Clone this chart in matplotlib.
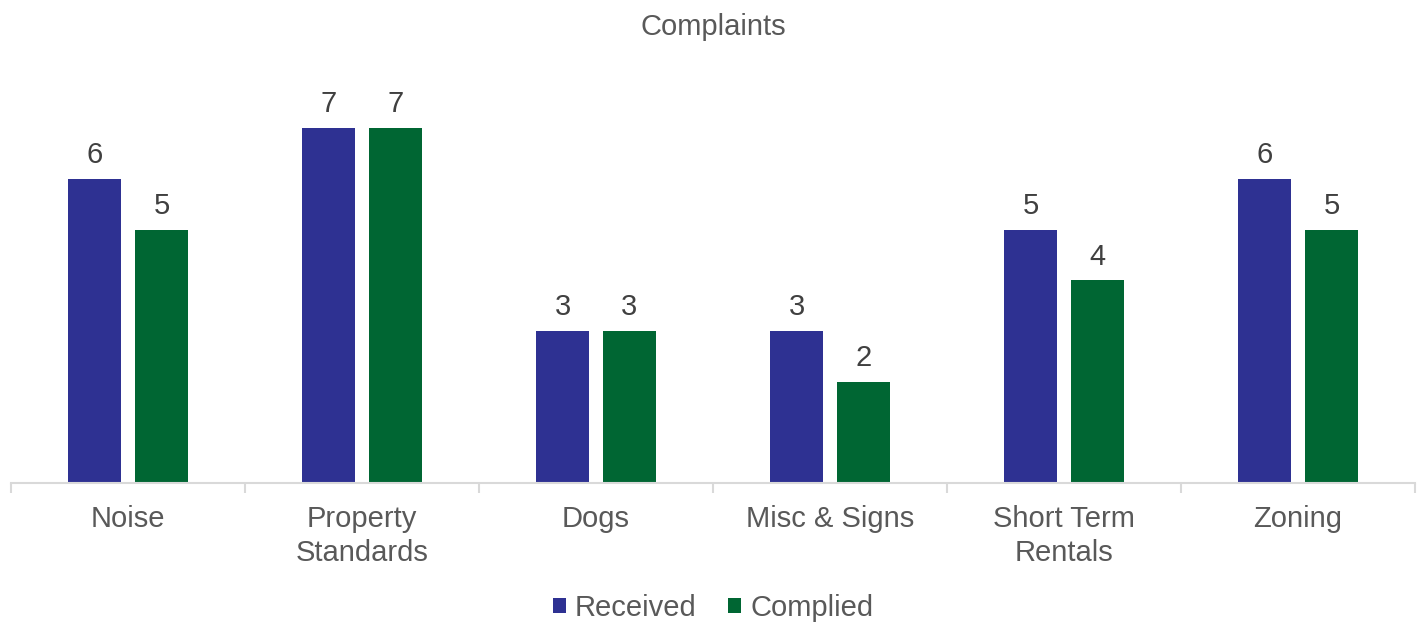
import matplotlib
matplotlib.use("Agg")
import matplotlib.pyplot as plt
import numpy as np

plt.rcParams['font.family'] = ['Liberation Sans', 'DejaVu Sans']

categories = ["Noise", "Property\nStandards", "Dogs", "Misc & Signs",
              "Short Term\nRentals", "Zoning"]
received = [6, 7, 3, 3, 5, 6]
complied = [5, 7, 3, 2, 4, 5]

BLUE = "#2E3192"
GREEN = "#006633"
TEXT = "#595959"
LABEL = "#404040"
AXIS = "#D9D9D9"
FS = 21

fig = plt.figure(figsize=(14.26, 6.23), dpi=100)
ax = fig.add_axes([0.0077, 0.2247, 0.9846, 0.651])

x = np.arange(len(categories))
width = 0.226
off = 0.143
b1 = ax.bar(x - off, received, width, color=BLUE, label="Received")
b2 = ax.bar(x + off, complied, width, color=GREEN, label="Complied")

for bars in (b1, b2):
    ax.bar_label(bars, padding=7, fontsize=FS, color=LABEL)

ax.set_xlim(-0.5, len(categories) - 0.5)
ax.set_ylim(0, 8)

for s in ("top", "right", "left"):
    ax.spines[s].set_visible(False)
ax.spines["bottom"].set_color(AXIS)
ax.spines["bottom"].set_linewidth(1.5)
ax.set_yticks([])

ax.set_xticks(x)
ax.set_xticklabels(categories, fontsize=FS, color=TEXT, linespacing=1.25)
ax.tick_params(axis="x", which="major", length=0, pad=16)
ax.set_xticks(np.arange(len(categories) + 1) - 0.5, minor=True)
ax.tick_params(axis="x", which="minor", length=7, width=1.5, color=AXIS)

fig.text(0.5, 1 - 27 / 623, "Complaints", ha="center", va="center",
         fontsize=FS, color=TEXT)

fig.legend(handles=[b1, b2], loc="center", bbox_to_anchor=(0.5, 1 - 608 / 623),
           ncol=2, frameon=False, fontsize=FS, labelcolor=TEXT,
           handlelength=0.45, handleheight=0.45, handletextpad=0.3,
           columnspacing=1.1)

fig.savefig("out.png", dpi=100)
